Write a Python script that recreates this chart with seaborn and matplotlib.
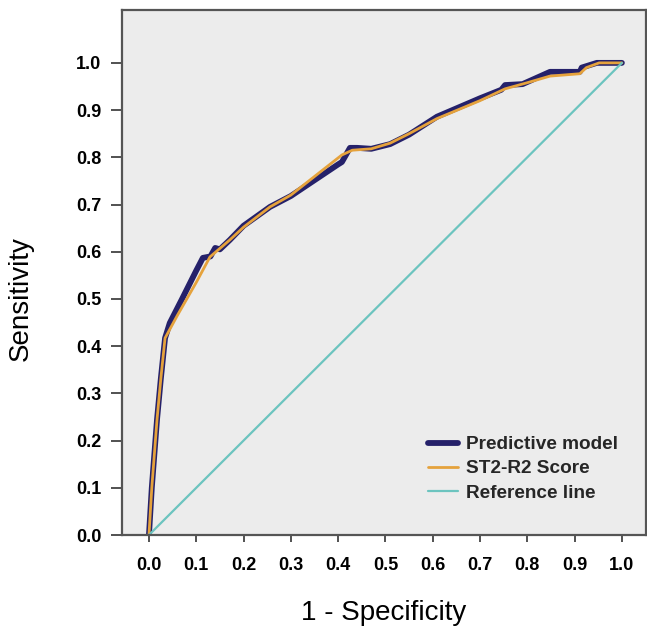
import matplotlib
matplotlib.use("Agg")
import matplotlib.pyplot as plt
import seaborn as sns
import pandas as pd

# ROC curve points (1 - specificity, sensitivity)
model_fpr = [0.0, 0.006, 0.017, 0.025, 0.034, 0.044, 0.07, 0.10, 0.114, 0.13, 0.14, 0.15,
             0.171, 0.20, 0.256, 0.30, 0.40, 0.408, 0.425, 0.44, 0.47, 0.51, 0.55,
             0.609, 0.70, 0.745, 0.753, 0.79, 0.848, 0.911, 0.915, 0.947, 1.0]
model_tpr = [0.0, 0.10, 0.244, 0.33, 0.417, 0.449, 0.50, 0.56, 0.587, 0.59, 0.608, 0.605,
             0.625, 0.655, 0.695, 0.718, 0.785, 0.79, 0.82, 0.82, 0.818, 0.828, 0.848,
             0.886, 0.925, 0.943, 0.953, 0.955, 0.981, 0.981, 0.99, 1.0, 1.0]

score_fpr = [0.0, 0.006, 0.017, 0.025, 0.034, 0.06, 0.10, 0.129, 0.171, 0.20, 0.256, 0.30,
             0.408, 0.43, 0.47, 0.51, 0.55, 0.609, 0.70, 0.753, 0.80, 0.848, 0.911,
             0.925, 0.952, 1.0]
score_tpr = [0.0, 0.10, 0.244, 0.33, 0.417, 0.465, 0.535, 0.589, 0.625, 0.652, 0.695, 0.72,
             0.805, 0.815, 0.818, 0.83, 0.85, 0.882, 0.92, 0.945, 0.958, 0.972, 0.977,
             0.99, 1.0, 1.0]

ref_fpr = [0.0, 1.0]
ref_tpr = [0.0, 1.0]

series_names = ["Predictive model", "ST2-R2 Score", "Reference line"]
ticks = [0.0, 0.1, 0.2, 0.3, 0.4, 0.5, 0.6, 0.7, 0.8, 0.9, 1.0]

frames = []
for name, xs, ys in zip(series_names,
                        [model_fpr, score_fpr, ref_fpr],
                        [model_tpr, score_tpr, ref_tpr]):
    frames.append(pd.DataFrame({"fpr": xs, "tpr": ys, "curve": name}))
df = pd.concat(frames, ignore_index=True)

sns.set_theme(style="white")
plt.rcParams["font.family"] = ["Liberation Sans", "DejaVu Sans"]

fig = plt.figure(figsize=(6.47, 6.34), dpi=100)
ax = fig.add_axes([122 / 647, 1 - 535 / 634, 524 / 647, 525 / 634])
ax.set_facecolor("#ececec")

palette = {"Predictive model": "#25216a", "ST2-R2 Score": "#e5a23c",
           "Reference line": "#6cc4bf"}
sizes = {"Predictive model": 4.2, "ST2-R2 Score": 2.0, "Reference line": 1.6}

sns.lineplot(data=df, x="fpr", y="tpr", hue="curve", size="curve",
             hue_order=series_names, size_order=series_names,
             palette=palette, sizes=sizes, sort=False, estimator=None,
             units="curve", ax=ax, legend=False)

ax.set_xlim(-0.057, 1.051)
ax.set_ylim(0.0, 1.112)
ax.set_xticks(ticks)
ax.set_yticks(ticks)
ax.set_xticklabels([f"{t:.1f}" for t in ticks], fontsize=13, fontweight="bold")
ax.set_yticklabels([f"{t:.1f}" for t in ticks], fontsize=13, fontweight="bold")
ax.tick_params(axis="y", which="major", direction="out", length=8, width=1.2,
               color="#333333", pad=7, left=True, labelcolor="black")
ax.tick_params(axis="x", which="major", direction="out", length=5, width=1.2,
               color="#333333", pad=11, bottom=True, labelcolor="black")

for spine in ax.spines.values():
    spine.set_visible(True)
    spine.set_color("#555555")
    spine.set_linewidth(1.6)

ax.set_xlabel("1 - Specificity", fontsize=20, color="black")
ax.set_ylabel("Sensitivity", fontsize=20, color="black")
ax.xaxis.set_label_coords(0.5, -0.124)
ax.yaxis.set_label_coords(-0.168, 0.45)

handles = [plt.Line2D([], [], color=palette[n], lw=sizes[n]) for n in series_names]
leg = ax.legend(handles, series_names, loc="lower right", frameon=False,
                prop={"weight": "bold", "size": 13.7}, handlelength=1.55,
                handletextpad=0.45, labelspacing=0.36,
                bbox_to_anchor=(0.98, 0.031))

fig.savefig("out.png", dpi=100, facecolor="white")
